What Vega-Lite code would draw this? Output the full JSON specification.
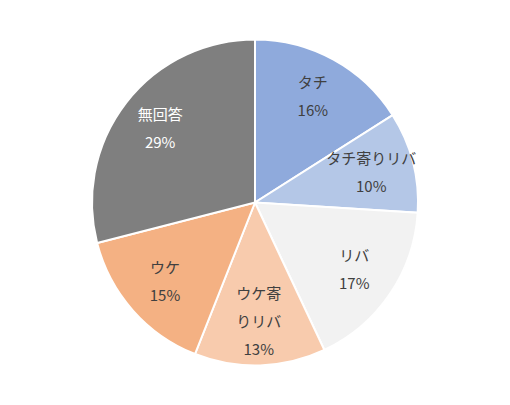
{
  "$schema": "https://vega.github.io/schema/vega-lite/v6.json",
  "width": 510,
  "height": 405,
  "autosize": {"type": "fit", "contains": "padding"},
  "background": "white",
  "view": {"stroke": null},
  "data": {
    "values": [
      {"order": 1, "category": "タチ", "value": 16, "label": "タチ\n16%"},
      {"order": 2, "category": "タチ寄りリバ", "value": 10, "label": "タチ寄りリバ\n10%"},
      {"order": 3, "category": "リバ", "value": 17, "label": "リバ\n17%"},
      {"order": 4, "category": "ウケ寄りリバ", "value": 13, "label": "ウケ寄\nりリバ\n13%"},
      {"order": 5, "category": "ウケ", "value": 15, "label": "ウケ\n15%"},
      {"order": 6, "category": "無回答", "value": 29, "label": "無回答\n29%"}
    ]
  },
  "encoding": {
    "theta": {"field": "value", "type": "quantitative", "stack": true},
    "order": {"field": "order", "type": "quantitative"}
  },
  "layer": [
    {
      "mark": {"type": "arc", "radius": 163, "stroke": "white", "strokeWidth": 2},
      "encoding": {
        "color": {
          "field": "category",
          "type": "nominal",
          "legend": null,
          "scale": {
            "domain": ["タチ", "タチ寄りリバ", "リバ", "ウケ寄りリバ", "ウケ", "無回答"],
            "range": ["#8faadc", "#b4c7e7", "#f2f2f2", "#f8cbad", "#f4b183", "#7f7f7f"]
          }
        }
      }
    },
    {
      "mark": {
        "type": "text",
        "radius": 120,
        "font": "Noto Sans CJK JP",
        "fontSize": 15,
        "lineHeight": 28,
        "lineBreak": "\n",
        "align": "center",
        "baseline": "middle",
        "dy": {"expr": "-(length(split(datum.label, '\\n')) - 1) * 14"}
      },
      "encoding": {
        "text": {"field": "label", "type": "nominal"},
        "color": {
          "condition": {"test": "datum.category === '無回答'", "value": "white"},
          "value": "#404040"
        }
      }
    }
  ]
}
